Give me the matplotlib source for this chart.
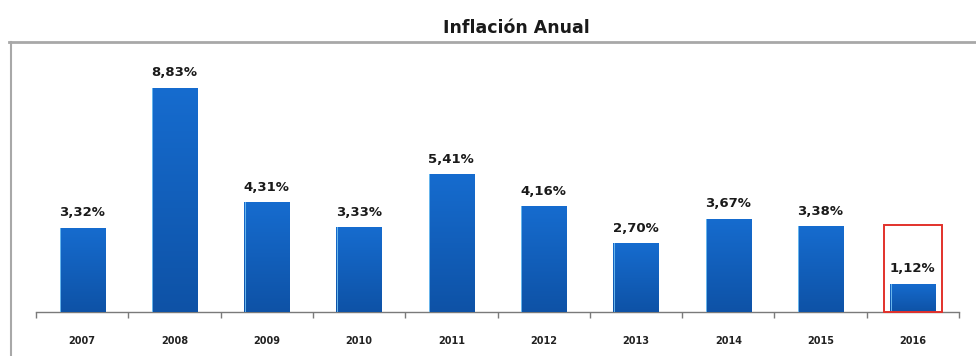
import numpy as np
import matplotlib
matplotlib.use("Agg")
import matplotlib.pyplot as plt
from matplotlib.colors import LinearSegmentedColormap
from matplotlib.lines import Line2D
from matplotlib.patches import Rectangle

years = ["2007", "2008", "2009", "2010", "2011", "2012", "2013", "2014", "2015", "2016"]
inflation = [3.32, 8.83, 4.31, 3.33, 5.41, 4.16, 2.70, 3.67, 3.38, 1.12]
highlight = "2016"
title = "Inflación Anual"

plt.rcParams['font.family'] = 'DejaVu Sans'

fig = plt.figure(figsize=(9.76, 3.56), dpi=100)
ax = fig.add_axes([36 / 976, 44 / 356, 923 / 976, 270 / 356])

x = np.arange(len(years))
bars = ax.bar(x, inflation, width=0.49, color='#1262c2', zorder=2)

# vertical blue gradient inside each bar
grad = LinearSegmentedColormap.from_list('barblue', ['#0e52a6', '#166ccf'])
g = np.linspace(0, 1, 256).reshape(-1, 1)
for b in bars:
    x0, y0 = b.get_x(), b.get_y()
    im = ax.imshow(g, cmap=grad, origin='lower', aspect='auto', zorder=3,
                   extent=[x0, x0 + b.get_width(), y0, y0 + b.get_height()])
    im.set_clip_path(b)
    ax.plot([x0 + 0.005, x0 + 0.005], [y0, y0 + b.get_height()],
            color='#6ab8ee', lw=0.7, zorder=4)

for xi, v in zip(x, inflation):
    ax.annotate(f"{v:.2f}%".replace('.', ','), (xi, v), xytext=(0, 6),
                textcoords='offset points', ha='center', va='bottom',
                fontsize=9.5, fontweight='bold', color='#1a1a1a', zorder=5)

# red box around the latest year
hi = years.index(highlight)
ax.add_patch(Rectangle((hi - 0.315, 0), 0.63, 3.42, fill=False,
                       edgecolor='#e2312b', lw=1.4, zorder=6, clip_on=False))

ax.set_xlim(-0.5, len(years) - 0.5)
ax.set_ylim(0, 10.62)
ax.set_yticks([])
for s in ['top', 'right', 'left']:
    ax.spines[s].set_visible(False)
ax.spines['bottom'].set_color('#7a7a7a')
ax.spines['bottom'].set_linewidth(1.0)

ax.set_xticks(x)
ax.set_xticklabels(years, fontsize=7, fontweight='bold', color='#222222')
ax.set_xticks(np.arange(-0.5, len(years)), minor=True)
ax.tick_params(axis='x', which='major', length=0, pad=17)
ax.tick_params(axis='x', which='minor', length=4, direction='out',
               color='#7a7a7a', width=1.0)

# outer frame (top and left edges)
fig.add_artist(Line2D([9 / 976, 1.0], [1 - 42 / 356, 1 - 42 / 356],
                      transform=fig.transFigure, color='#a8a8a8', lw=2))
fig.add_artist(Line2D([10.5 / 976, 10.5 / 976], [0, 1 - 42 / 356],
                      transform=fig.transFigure, color='#a8a8a8', lw=1.5))

fig.text(516 / 976, 1 - 28 / 356, title, ha='center', va='center',
         fontsize=12.5, fontweight='bold', color='#1a1a1a')

fig.savefig('out.png', dpi=100)
